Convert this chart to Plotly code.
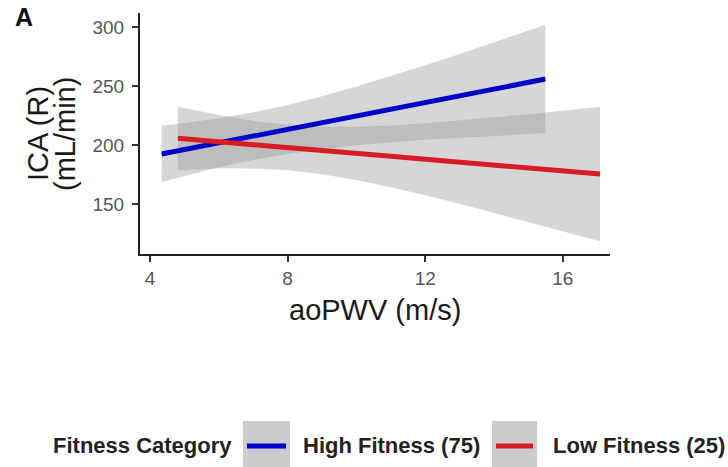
import plotly.graph_objects as go

# Fitted regression lines and 95% confidence bands, ICA (R) flow vs aoPWV
high_x = [4.34, 5, 6, 7, 8, 9, 10, 11, 12, 13, 14, 15, 15.49]
high_fit = [192.4, 196.2, 201.9, 207.5, 213.2, 218.9, 224.6, 230.3, 236.0, 241.7, 247.4, 253.1, 255.9]
high_upper = [216.4, 218.6, 222.7, 227.7, 234.0, 241.3, 249.5, 258.4, 267.6, 277.2, 287.0, 297.0, 301.9]
high_lower = [168.4, 173.8, 181.1, 187.3, 192.4, 196.5, 199.7, 202.2, 204.4, 206.2, 207.8, 209.2, 209.9]

low_x = [4.81, 5, 6, 7, 8, 9, 10, 11, 12, 13, 14, 15, 16, 17.08]
low_fit = [205.7, 205.2, 202.8, 200.3, 197.8, 195.4, 192.9, 190.4, 187.9, 185.5, 183.0, 180.4, 178.0, 175.4]
low_upper = [232.7, 231.4, 225.4, 220.5, 217.1, 215.6, 215.5, 216.6, 218.4, 220.8, 223.4, 226.0, 229.1, 232.4]
low_lower = [178.7, 179.0, 180.2, 180.1, 178.5, 175.2, 170.3, 164.2, 157.4, 150.2, 142.6, 134.8, 126.9, 118.4]

x_ticks = [4, 8, 12, 16]
y_ticks = [150, 200, 250, 300]

legend_title = "Fitness Category"
groups = ["High Fitness (75)", "Low Fitness (25)"]
colors = ["#0000c8", "#d91c24"]
band_fill = "rgba(153,153,153,0.4)"

W, H = 728, 467
L, R, T, B = 140, 118, 13, 213
PW, PH = W - L - R, H - T - B


def px(xp):
    return (xp - L) / PW


def py(yp):
    return (H - B - yp) / PH


fig = go.Figure()

series = [
    (high_x, high_fit, high_upper, high_lower, colors[0], groups[0]),
    (low_x, low_fit, low_upper, low_lower, colors[1], groups[1]),
]
# confidence bands first, fitted lines on top
for xs, fit, up, lo, col, name in series:
    fig.add_trace(go.Scatter(
        x=xs + xs[::-1], y=up + lo[::-1], fill="toself", fillcolor=band_fill,
        line=dict(width=0), mode="lines", hoverinfo="skip", showlegend=False,
    ))
for xs, fit, up, lo, col, name in series:
    fig.add_trace(go.Scatter(
        x=xs, y=fit, mode="lines", line=dict(color=col, width=5),
        name=name, showlegend=False,
    ))

axis_common = dict(
    showgrid=False, zeroline=False, showline=True, linecolor="#222222",
    linewidth=2, ticks="outside", ticklen=6, tickwidth=1.5, tickcolor="#333333",
    tickfont=dict(family="Liberation Sans", size=19, color="#555555"),
)
fig.update_xaxes(range=[3.71, 17.37], tickvals=x_ticks, **axis_common)
fig.update_yaxes(range=[107.6, 311.9], tickvals=y_ticks, ticklabelstandoff=4, **axis_common)

annotations = [
    dict(text="<b>A</b>", x=px(13), y=py(17), xanchor="left", yanchor="middle",
         font=dict(size=25, color="#111111")),
    dict(text="aoPWV (m/s)", x=px(375), y=py(310), xanchor="center", yanchor="middle",
         font=dict(size=29, color="#1a1a1a")),
    dict(text="ICA (R)", x=px(38), y=py(134), textangle=-90, xanchor="center",
         yanchor="middle", font=dict(size=29, color="#1a1a1a")),
    dict(text="(mL/min)", x=px(65), y=py(134), textangle=-90, xanchor="center",
         yanchor="middle", font=dict(size=29, color="#1a1a1a")),
    dict(text="<b>" + legend_title + "</b>", x=px(51), y=py(446), xanchor="left",
         yanchor="middle", font=dict(size=22, color="#222222")),
]

# legend keys: grey band swatch with the group's line across it
key_boxes = [(243, 290), (492, 537)]
label_left = [301, 551]
shapes = []
for (x0, x1), col, name, lx in zip(key_boxes, colors, groups, label_left):
    shapes.append(dict(type="rect", xref="paper", yref="paper",
                       x0=px(x0), x1=px(x1), y0=py(475), y1=py(421),
                       fillcolor="#cccccc", line=dict(width=0), layer="below"))
    shapes.append(dict(type="line", xref="paper", yref="paper",
                       x0=px(x0 + 4), x1=px(x1 - 4), y0=py(446), y1=py(446),
                       line=dict(color=col, width=5)))
    annotations.append(dict(text="<b>" + name + "</b>", x=px(lx), y=py(446),
                            xanchor="left", yanchor="middle",
                            font=dict(size=22, color="#222222")))

for a in annotations:
    a.update(xref="paper", yref="paper", showarrow=False)

fig.update_layout(
    width=W, height=H,
    margin=dict(l=L, r=R, t=T, b=B),
    paper_bgcolor="white", plot_bgcolor="white",
    font=dict(family="Liberation Sans"),
    annotations=annotations, shapes=shapes,
    showlegend=False,
)

fig.write_html("out.html")
